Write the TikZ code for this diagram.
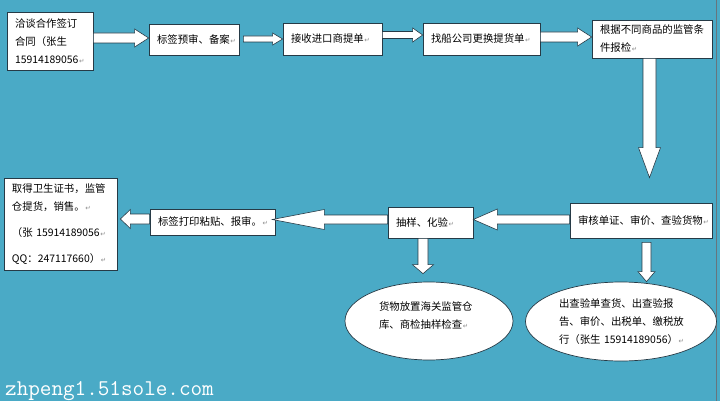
\documentclass[tikz,border=0pt]{standalone}
\usepackage{fontspec}
\setmainfont{Noto Sans CJK SC}
\newfontfamily\dejavu{DejaVu Sans}
\usetikzlibrary{calc,shapes.geometric}
\definecolor{bgc}{RGB}{74,170,198}
\definecolor{edgec}{RGB}{38,58,70}
\newcommand\pmark{{\kern0.6pt\dejavu\fontsize{6.5}{6.5}\selectfont\textcolor{black!45}{↵}}}
\newcommand\blockarrow[5]{%
  \coordinate (ba-s) at #1;
  \coordinate (ba-t) at #2;
  \coordinate (ba-b) at ($(ba-t)!#5!(ba-s)$);
  \draw[blk] ($(ba-s)!#3!90:(ba-t)$) -- ($(ba-b)!#3!-90:(ba-s)$) -- ($(ba-b)!#4!-90:(ba-s)$) -- (ba-t) -- ($(ba-b)!#4!90:(ba-s)$) -- ($(ba-b)!#3!90:(ba-s)$) -- ($(ba-s)!#3!-90:(ba-t)$) -- cycle;
}
\tikzset{
  box/.style={draw=edgec, fill=white, line width=0.7pt, rectangle, inner xsep=8pt, inner ysep=0pt, align=left, font=\fontsize{10.4}{18}\selectfont, text=black},
  oval/.style={draw=edgec, fill=white, line width=0.7pt, ellipse, inner sep=0pt, align=left, font=\fontsize{10.4}{18}\selectfont, text=black},
  blk/.style={draw=edgec, fill=white, line width=0.6pt, line join=miter},
}
\begin{document}
\begin{tikzpicture}[x=1pt,y=-1pt]
\useasboundingbox (0,0) rectangle (720,401);
\fill[bgc] (0,0) rectangle (720,401);
\draw[edgec!70, line width=0.8pt] (716,0) -- (716,401);

% boxes
\node[box, minimum width=86pt, minimum height=58pt, text width=70pt] (A) at (50,41) {洽谈合作签订\\合同（张生\\15914189056\pmark};
\node[box, minimum width=90pt, minimum height=31pt, text width=74pt] (B) at (194,39.5) {标签预审、备案\pmark};
\node[box, minimum width=99pt, minimum height=32pt, text width=83pt] (C) at (332.5,39) {接收进口商提单\pmark};
\node[box, minimum width=117pt, minimum height=32pt, text width=101pt] (D) at (481.5,39) {找船公司更换提货单\pmark};
\node[box, minimum width=120pt, minimum height=38pt, text width=104pt] (E) at (652,39) {根据不同商品的监管条\\件报检\pmark};
\node[box, minimum width=142pt, minimum height=35pt, text width=126pt] (F) at (641,220.5) {审核单证、审价、查验货物\pmark};
\node[box, minimum width=85pt, minimum height=31pt, text width=69pt] (G) at (430.5,222.5) {抽样、化验\pmark};
\node[box, minimum width=125pt, minimum height=26pt, text width=109pt] (H) at (212.5,222) {标签打印粘贴、报审。\pmark};
\node[box, minimum width=113pt, minimum height=92pt, text width=97pt] (I) at (60.5,224) {取得卫生证书，监管\\仓提货，销售。\pmark\\[8pt]（张~15914189056\pmark\\[8pt]QQ：247117660）\pmark};

% ellipses
\node[oval, minimum width=168pt, minimum height=78pt, text width=100pt] (J) at (429,321) {货物放置海关监管仓\\库、商检抽样检查\pmark\\[-6pt]\mbox{}};
\node[oval, minimum width=191pt, minimum height=79pt, text width=124pt] (K) at (621,321.5) {出查验单查货、出查验报\\告、审价、出税单、缴税放\\行（张生~15914189056）\pmark};

% block arrows
\blockarrow{(A.east |- 0,38)}{(B.west |- 0,38)}{5pt}{9pt}{14pt}
\blockarrow{($(B.east |- 0,39)+(4,0)$)}{(C.west |- 0,39)}{3pt}{6pt}{10pt}
\blockarrow{(C.east |- 0,35)}{(D.west |- 0,35)}{3.5pt}{7pt}{10pt}
\blockarrow{(D.east |- 0,37)}{(E.west |- 0,37)}{5pt}{9pt}{14pt}
\blockarrow{(E.south -| 649.5,0)}{($(F.north -| 649.5,0)+(0,-25)$)}{6.5pt}{11pt}{30pt}
\blockarrow{(F.west |- 0,219.5)}{(G.east |- 0,219.5)}{4.5pt}{10.5pt}{24pt}
\blockarrow{(G.west |- 0,219.5)}{($(H.east |- 0,219.5)+(-3,0)$)}{4.5pt}{10pt}{52pt}
\blockarrow{(H.west |- 0,219)}{($(I.east |- 0,219)+(3,0)$)}{5pt}{9.5pt}{10pt}
\blockarrow{(G.south -| 423,0)}{($(J.north -| 423,0)+(0,-8)$)}{5pt}{10.5pt}{9pt}
\blockarrow{($(F.south -| 646.5,0)+(0,4)$)}{(K.north -| 646.5,0)}{4.5pt}{8.5pt}{10pt}

% watermark
\node[font=\ttfamily\fontsize{22.5}{22.5}\selectfont, text=white, anchor=base west, inner sep=0pt] (wm) at (5,395) {zhpeng1.51sole.com};
\end{tikzpicture}
\end{document}
